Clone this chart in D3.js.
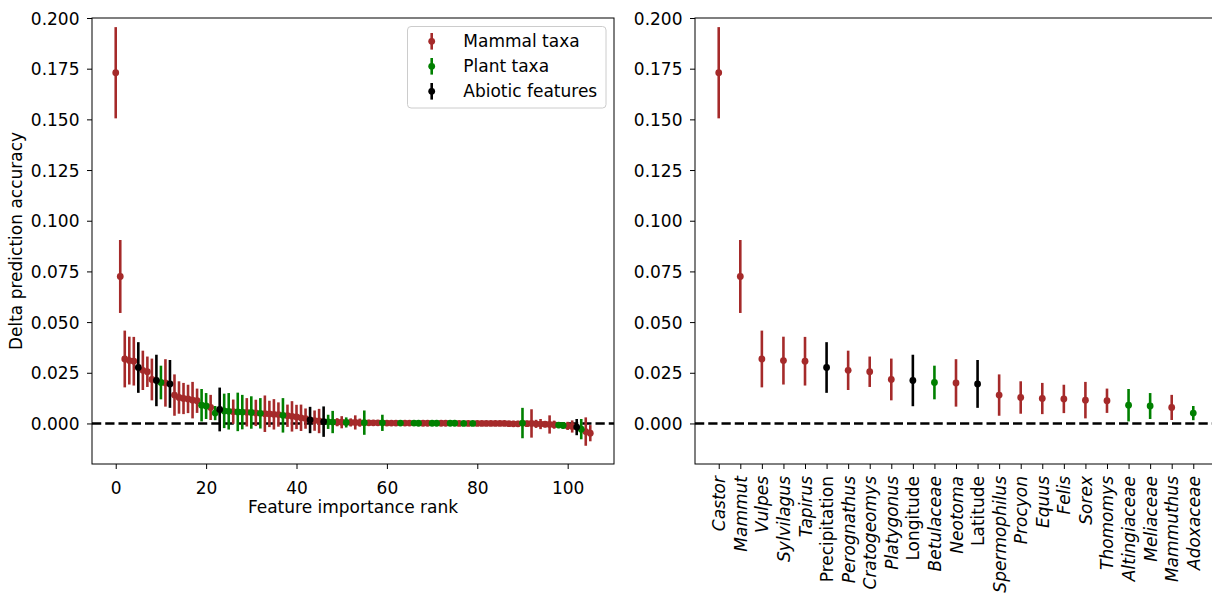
<!DOCTYPE html>
<html><head><meta charset="utf-8">
<script src="https://cdn.jsdelivr.net/npm/d3@7"></script>
<style>body{margin:0;background:#fff;overflow:hidden} svg{display:block} text{font-family:"DejaVu Sans",sans-serif;fill:#000}</style>
</head><body><svg id="c" width="1212" height="595"></svg>
<script>
// ---- data ----
const rankGroups = [
 "M","M","M","M","M","A","M","M","M","A","P","M","A","M","M","M","M","M","M","P","P","M","P",
 "A","P","P","M","P","P","M","P","M","P","M","M","M","M","P","M","M","M","M","M","A","M","M","A",
 "P","P","M","M","P","M","M","M","P","M","M","M","P","M","M","M","P","M","M","P","P","M","M","P",
 "P","M","M","P","P","M","P","M","P","M","M","M","M","M","M","M","M","M","M","P","M","M","M","M",
 "M","M","M","P","P","M","M","A","P","M","M"];
const rankValues = [
 0.173,0.0725,0.0318,0.031,0.0307,0.0276,0.0262,0.0255,0.0217,0.0212,0.0202,0.0200,0.0195,0.0140,0.0128,0.0123,0.0121,0.0115,0.0112,0.0090,0.0086,0.0079,0.0051,
 0.0069,0.0062,0.0060,0.0058,0.0057,0.0056,0.0055,0.0054,0.0052,0.0050,0.0048,0.0047,0.0045,0.0044,0.0040,0.0038,0.0035,0.0032,0.0028,0.0024,0.0017,0.0014,0.0012,0.0009,
 0.0008,0.0007,0.0006,0.0006,0.0005,0.0005,0.0005,0.0004,0.0004,0.0003,0.0003,0.0003,0.0003,0.0002,0.0002,0.0002,0.0002,0.0002,0.0002,0.0002,0.0001,0.0001,0.0001,0.0001,
 0.0001,0.0001,0.0001,0.0001,0.0001,0.0,0.0,0.0,0.0,0.0,0.0,0.0,0.0,0.0,0.0,0.0,-0.0001,-0.0002,-0.0002,0.0002,-0.0001,0.0,-0.0002,-0.0003,
 -0.0004,-0.0005,-0.0006,-0.0008,-0.0010,-0.0012,-0.0015,-0.0018,-0.0028,-0.0040,-0.0048];
const rankErrors = [
 0.0225,0.018,0.014,0.0118,0.012,0.0125,0.0097,0.0075,0.0103,0.0127,0.0083,0.0117,0.0118,0.0102,0.008,0.0077,0.007,0.009,0.006,0.008,0.0064,0.0062,0.0035,
 0.0108,0.0085,0.009,0.006,0.0095,0.0085,0.007,0.008,0.0065,0.0075,0.009,0.0065,0.0075,0.006,0.0085,0.0055,0.0075,0.006,0.0065,0.005,0.0065,0.005,0.006,0.0075,
 0.0035,0.0055,0.002,0.003,0.0025,0.002,0.0035,0.002,0.006,0.0015,0.001,0.001,0.004,0.001,0.001,0.001,0.0008,0.001,0.0008,0.0008,0.0008,0.0008,0.0008,0.0008,
 0.0008,0.0008,0.0008,0.0008,0.0008,0.0008,0.0008,0.0008,0.0008,0.0008,0.0008,0.0008,0.0008,0.0008,0.0008,0.0008,0.001,0.0015,0.0015,0.0075,0.0015,0.007,0.002,0.0025,
 0.0015,0.0045,0.002,0.0015,0.0015,0.002,0.003,0.004,0.005,0.007,0.004];
const topNames = ["Castor","Mammut","Vulpes","Sylvilagus","Tapirus","Precipitation","Perognathus","Cratogeomys","Platygonus","Longitude","Betulaceae","Neotoma","Latitude","Spermophilus","Procyon","Equus","Felis","Sorex","Thomomys","Altingiaceae","Meliaceae","Mammuthus","Adoxaceae"];
const abioticNames = ["Precipitation","Longitude","Latitude"];
const yTicks = [0,0.025,0.05,0.075,0.1,0.125,0.15,0.175,0.2];
const xTicks = [0,20,40,60,80,100];
const legendGroups = ["M","P","A"];
const legendLabels = ["Mammal taxa","Plant taxa","Abiotic features"];

// ---- styles ----
const colors = {M:"#a52a2a", P:"#008000", A:"#000000"};
const FS = 17;
const svg = d3.select("#c");
const topY = 18, bottomY = 464;
const y = d3.scaleLinear().domain([-0.02, 0.2]).range([bottomY, topY]);

function drawYAxis(g, left){
  const ax = g.append("g").attr("transform",`translate(${left},0)`)
    .call(d3.axisLeft(y).tickValues(yTicks).tickFormat(d3.format(".3f")).tickSize(5).tickPadding(7.5));
  ax.select(".domain").remove();
  ax.selectAll("line").attr("stroke","#000").attr("stroke-width",1);
  ax.selectAll("text").attr("font-size",FS).attr("font-family","DejaVu Sans").attr("dy","0.36em");
}

function drawPoints(g, x, idx){
  const order = ["M","P","A"];
  order.forEach(grp=>{
    const pts = idx.filter(i=>rankGroups[i]===grp);
    g.selectAll(null).data(pts).enter().append("line")
      .attr("x1",d=>x(d)).attr("x2",d=>x(d))
      .attr("y1",d=>y(rankValues[d]-rankErrors[d])).attr("y2",d=>y(rankValues[d]+rankErrors[d]))
      .attr("stroke",colors[grp]).attr("stroke-width",2.6);
    g.selectAll(null).data(pts).enter().append("circle")
      .attr("cx",d=>x(d)).attr("cy",d=>y(rankValues[d])).attr("r",3.4)
      .attr("fill",colors[grp]);
  });
}

// ---- left panel ----
const L0 = 92, L1 = 614;
const xL = d3.scaleLinear().domain([-5.25, 110.25]).range([L0, L1]);
const gL = svg.append("g");
gL.append("clipPath").attr("id","clipL").append("rect").attr("x",L0).attr("y",topY).attr("width",L1-L0).attr("height",bottomY-topY);
const dL = gL.append("g").attr("clip-path","url(#clipL)");
dL.append("line").attr("x1",L0).attr("x2",L1).attr("y1",y(0)).attr("y2",y(0))
  .attr("stroke","#000").attr("stroke-width",2.5).attr("stroke-dasharray","9.25,4");
drawPoints(dL, xL, d3.range(rankValues.length));
gL.append("rect").attr("x",L0).attr("y",topY).attr("width",L1-L0).attr("height",bottomY-topY)
  .attr("fill","none").attr("stroke","#000").attr("stroke-width",1);
drawYAxis(gL, L0);
const axL = gL.append("g").attr("transform",`translate(0,${bottomY})`)
  .call(d3.axisBottom(xL).tickValues(xTicks).tickSize(5).tickPadding(7));
axL.select(".domain").remove();
axL.selectAll("line").attr("stroke","#000");
axL.selectAll("text").attr("font-size",FS).attr("font-family","DejaVu Sans").attr("dy",null).attr("y",30);
gL.append("text").attr("x",(L0+L1)/2).attr("y",513).attr("text-anchor","middle").attr("font-size",FS).text("Feature importance rank");
gL.append("text").attr("transform",`translate(21.5,${(topY+bottomY)/2}) rotate(-90)`).attr("text-anchor","middle").attr("font-size",FS).text("Delta prediction accuracy");

// legend
const lg = gL.append("g");
lg.append("rect").attr("x",407.5).attr("y",26.5).attr("width",198.5).attr("height",81.5).attr("rx",3.5)
  .attr("fill","#fff").attr("fill-opacity",0.8).attr("stroke","#cccccc").attr("stroke-width",1);
legendGroups.forEach((grp,i)=>{
  const cy = 41.3 + i*25;
  lg.append("line").attr("x1",431.7).attr("x2",431.7).attr("y1",cy-8.3).attr("y2",cy+8.3).attr("stroke",colors[grp]).attr("stroke-width",2.6);
  lg.append("circle").attr("cx",431.7).attr("cy",cy).attr("r",3.4).attr("fill",colors[grp]);
  lg.append("text").attr("x",463.3).attr("y",cy).attr("dy","0.36em").attr("font-size",FS).text(legendLabels[i]);
});

// ---- right panel ----
const R0 = 695, R1 = 1217;
const xR = d3.scaleLinear().domain([-1.1, topNames.length - 1 + 1.1]).range([R0, R1]);
const gR = svg.append("g");
gR.append("clipPath").attr("id","clipR").append("rect").attr("x",R0).attr("y",topY).attr("width",R1-R0).attr("height",bottomY-topY);
const dR = gR.append("g").attr("clip-path","url(#clipR)");
dR.append("line").attr("x1",R0).attr("x2",R1).attr("y1",y(0)).attr("y2",y(0))
  .attr("stroke","#000").attr("stroke-width",2.5).attr("stroke-dasharray","9.25,4");
drawPoints(dR, xR, d3.range(topNames.length));
gR.append("rect").attr("x",R0).attr("y",topY).attr("width",R1-R0).attr("height",bottomY-topY)
  .attr("fill","none").attr("stroke","#000").attr("stroke-width",1);
drawYAxis(gR, R0);
const axR = gR.append("g").attr("transform",`translate(0,${bottomY})`)
  .call(d3.axisBottom(xR).tickValues(d3.range(topNames.length)).tickSize(5).tickFormat(i=>topNames[i]));
axR.select(".domain").remove();
axR.selectAll("line").attr("stroke","#000");
axR.selectAll("text")
  .attr("font-size",FS).attr("font-family","DejaVu Sans")
  .attr("font-style",(d)=>abioticNames.includes(topNames[d])?"normal":"italic")
  .attr("y",null).attr("dy",null)
  .attr("text-anchor","end")
  .attr("transform","translate(6,12) rotate(-90)");
</script></body></html>
